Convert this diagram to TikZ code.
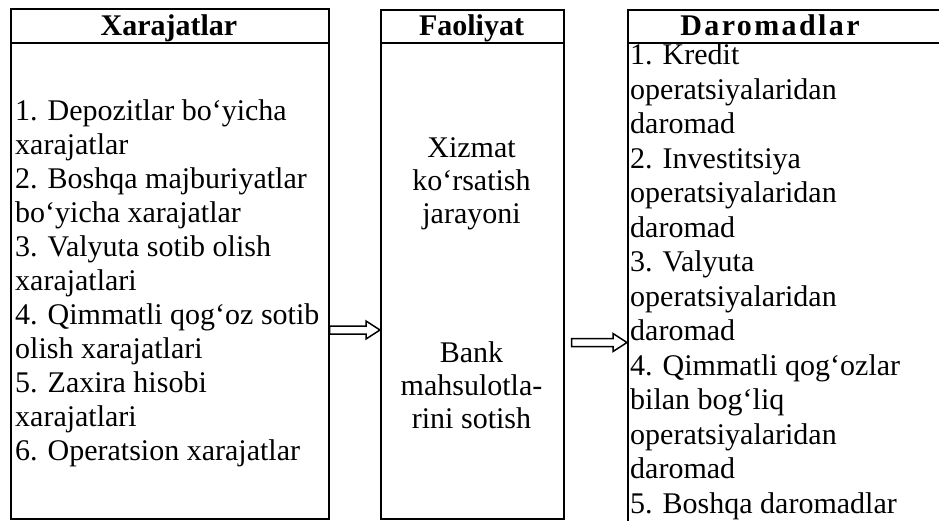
\documentclass[tikz,border=0pt]{standalone}
\usepackage{fontspec}
\setmainfont{Liberation Serif}
\usetikzlibrary{calc}
\begin{document}
\begin{tikzpicture}[x=1pt,y=-1pt,
  box/.style={draw, line width=1.5pt, rectangle, inner sep=0pt, anchor=north west},
  rule/.style={line width=1.5pt},
  hdr/.style={font=\fontsize{30}{34}\selectfont\bfseries, anchor=base, inner sep=0pt},
  body/.style={font=\fontsize{30}{34}\selectfont, align=left, anchor=base west, inner sep=0pt},
  bodyr/.style={body, font=\fontsize{30}{34.5}\selectfont},
  mid/.style={font=\fontsize{30}{33}\selectfont, align=center, anchor=base, inner sep=0pt},
  hollow/.style={draw, line width=1.5pt, line join=miter,
    to path={let \p1=(\tikztostart), \p2=(\tikztotarget) in
      (\x1,\y1+4pt) -- (\x2-14pt,\y1+4pt) -- (\x2-14pt,\y1+9pt) -- (\x2,\y1)
      -- (\x2-14pt,\y1-9pt) -- (\x2-14pt,\y1-4pt) -- (\x1,\y1-4pt) -- cycle}}
]
\useasboundingbox (0,0) rectangle (939,520);
\fill[white] (0,0) rectangle (939,520);
\clip (0,0) rectangle (939,520);

% the three columns
\node[box, minimum width=318pt, minimum height=510pt] (xar) at (10,8) {};
\node[box, minimum width=183pt, minimum height=509pt] (fao) at (380,9) {};
\node[box, minimum width=400pt, minimum height=560pt] (dar) at (627,9) {};

% header separators
\draw[rule] (xar.west |- 0,43) -- (xar.east |- 0,43);
\draw[rule] (fao.west |- 0,43) -- (fao.east |- 0,43);
\draw[rule] (dar.west |- 0,43) -- (dar.east |- 0,43);

% headers
\node[hdr] (xarh) at (169,35) {Xarajatlar};
\node[hdr] (faoh) at (471.5,35) {Faoliyat};
\node[hdr, font=\fontsize{30}{34}\selectfont\bfseries\addfontfeature{LetterSpace=8}] (darh) at (770,35) {Daromadlar};

% column contents (anchored at the baseline of the last line)
\node[body] (xart) at (15,460) {1. Depozitlar bo‘yicha\\ xarajatlar\\ 2. Boshqa majburiyatlar\\ bo‘yicha xarajatlar\\ 3. Valyuta sotib olish\\ xarajatlari\\ 4. Qimmatli qog‘oz sotib\\ olish xarajatlari\\ 5. Zaxira hisobi\\ xarajatlari\\ 6. Operatsion xarajatlar};

\node[mid] (svc) at (471.5,223) {Xizmat\\ ko‘rsatish\\ jarayoni};
\node[mid] (sale) at (471.5,428) {Bank\\ mahsulotla-\\ rini sotish};

\node[bodyr] (dart) at (630,513) {1. Kredit\\ operatsiyalaridan\\ daromad\\ 2. Investitsiya\\ operatsiyalaridan\\ daromad\\ 3. Valyuta\\ operatsiyalaridan\\ daromad\\ 4. Qimmatli qog‘ozlar\\ bilan bog‘liq\\ operatsiyalaridan\\ daromad\\ 5. Boshqa daromadlar};

% flow arrows
\draw[hollow] (xar.east |- 0,330) to (fao.west |- 0,330);
\draw[hollow] ([xshift=7pt]fao.east |- 0,342.5) to (dar.west |- 0,342.5);
\end{tikzpicture}
\end{document}
